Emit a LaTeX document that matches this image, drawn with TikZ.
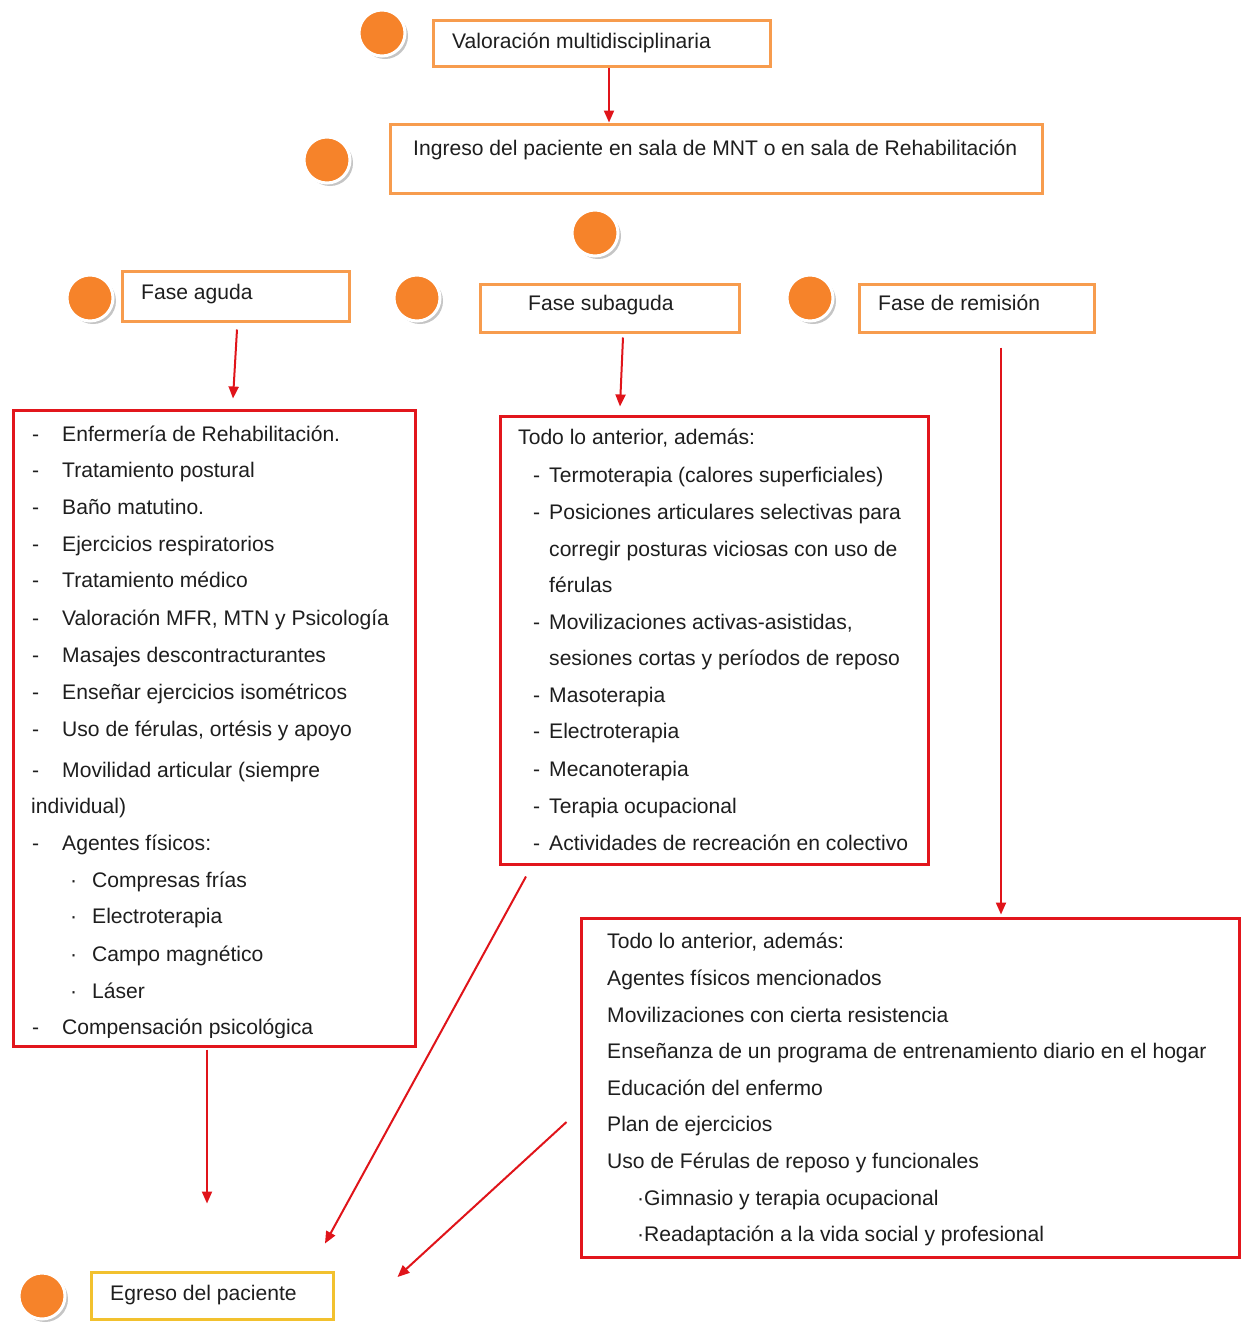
\documentclass[tikz,border=0pt]{standalone}
\usepackage{fontspec}
\setmainfont{Liberation Sans}
\usetikzlibrary{arrows.meta,shadows,calc}
\definecolor{obord}{HTML}{F79C4E}
\definecolor{ybord}{HTML}{F2C12E}
\definecolor{corange}{HTML}{F6832A}
\definecolor{rbord}{HTML}{E2161C}
\definecolor{arrred}{HTML}{E0141A}
\definecolor{txtc}{HTML}{1E1E1E}
\begin{document}
\begin{tikzpicture}[x=1pt,y=-1pt,
  txt/.style={anchor=base west, inner sep=0pt, font=\fontsize{21.1}{24}\selectfont, text=txtc},
  obox/.style={draw=obord, line width=3pt, inner sep=0pt, fill=white},
  ybox/.style={draw=ybord, line width=3pt, inner sep=0pt, fill=white},
  rbox/.style={draw=rbord, line width=3pt, inner sep=0pt},
  arr/.style={draw=arrred, line width=2pt, -{Triangle[length=12pt,width=10pt]}},
  dotc/.style={circle, fill=corange, draw=white, line width=3pt, minimum size=46pt, inner sep=0pt,
    drop shadow={shadow xshift=3pt, shadow yshift=-3pt, fill=black!45, opacity=.5}},
]
\useasboundingbox[fill=white] (0,0) rectangle (1241,1323);

% circles
\node[dotc] (c1) at (382,33) {};
\node[dotc] (c2) at (327,160) {};
\node[dotc] (c3) at (595,233) {};
\node[dotc] (c4) at (90,298) {};
\node[dotc] (c5) at (417,298) {};
\node[dotc] (c6) at (810,298) {};
\node[dotc] (c7) at (42,1296) {};

% boxes
\node[obox, minimum width=337pt, minimum height=46pt] (v) at (601.5,43) {};
\node[obox, minimum width=652pt, minimum height=69pt] (i) at (716,158.5) {};
\node[obox, minimum width=227pt, minimum height=50pt] (fa) at (235.5,296) {};
\node[obox, minimum width=259pt, minimum height=48pt] (fs) at (609.5,308) {};
\node[obox, minimum width=235pt, minimum height=48pt] (fr) at (976.5,308) {};
\node[rbox, minimum width=402pt, minimum height=636pt] (b1) at (214,728) {};
\node[rbox, minimum width=428pt, minimum height=448pt] (b2) at (714,640) {};
\node[rbox, minimum width=658pt, minimum height=339pt] (b3) at (910,1087.5) {};
\node[ybox, minimum width=242pt, minimum height=47pt] (eg) at (212,1295.5) {};

% box texts
\node[txt] (tv) at (452,48) {Valoración multidisciplinaria};
\node[txt] (ti) at (413,155) {Ingreso del paciente en sala de MNT o en sala de Rehabilitación};
\node[txt] (tfa) at (141,299) {Fase aguda};
\node[txt] (tfs) at (528,310) {Fase subaguda};
\node[txt] (tfr) at (878,310) {Fase de remisión};
\node[txt] (teg) at (110,1300) {Egreso del paciente};

% box 1
\begin{scope}
\clip (13,410) rectangle (415,1037);
\foreach \yy/\t [count=\k] in {
  434/{Enfermería de Rehabilitación.},
  470/{Tratamiento postural},
  507/{Baño matutino.},
  544/{Ejercicios respiratorios},
  580/{Tratamiento médico},
  618/{Valoración MFR, MTN y Psicología},
  655/{Masajes descontracturantes},
  692/{Enseñar ejercicios isométricos},
  729/{Uso de férulas, ortésis y apoyo},
  770/{Movilidad articular (siempre},
  843/{Agentes físicos:},
  1027/{Compensación psicológica}}
{
  \node[txt] (ad\k) at (32,\yy+7) {-};
  \node[txt] (a\k) at (62,\yy+7) {\t};
}
\end{scope}
\node[txt] (a13) at (31,813) {individual)};
\foreach \yy/\t [count=\k] in {
  880/{Compresas frías},
  916/{Electroterapia},
  954/{Campo magnético},
  991/{Láser}}
{
  \node[txt] (ab\k) at (70,\yy+7) {·};
  \node[txt] (as\k) at (92,\yy+7) {\t};
}

% box 2
\node[txt] (b2h) at (518,444) {Todo lo anterior, además:};
\foreach \yy/\t [count=\k] in {
  475/{Termoterapia (calores superficiales)},
  512/{Posiciones articulares selectivas para},
  622/{Movilizaciones activas-asistidas,},
  695/{Masoterapia},
  731/{Electroterapia},
  769/{Mecanoterapia},
  806/{Terapia ocupacional},
  843/{Actividades de recreación en colectivo}}
{
  \node[txt] (bd\k) at (533,\yy+7) {-};
  \node[txt] (bt\k) at (549,\yy+7) {\t};
}
\node[txt] (bc1) at (549,556) {corregir posturas viciosas con uso de};
\node[txt] (bc2) at (549,592) {férulas};
\node[txt] (bc3) at (549,665) {sesiones cortas y períodos de reposo};

% box 3
\foreach \yy/\t [count=\k] in {
  941/{Todo lo anterior, además:},
  978/{Agentes físicos mencionados},
  1015/{Movilizaciones con cierta resistencia},
  1051/{Enseñanza de un programa de entrenamiento diario en el hogar},
  1088/{Educación del enfermo},
  1124/{Plan de ejercicios},
  1161/{Uso de Férulas de reposo y funcionales}}
{
  \node[txt] (ct\k) at (607,\yy+7) {\t};
}
\node[txt] (cs1) at (637,1205) {·Gimnasio y terapia ocupacional};
\node[txt] (cs2) at (637,1241) {·Readaptación a la vida social y profesional};

% arrows
\draw[arr] ($(v.south)+(7.5,0)$) -- ($(i.north)+(-107,0)$);
\draw[arr] ($(fa.south)+(1.5,7)$) -- ($(b1.north)+(19,-10)$);
\draw[arr] ($(fs.south)+(13.5,4)$) -- ($(b2.north)+(-94,-8)$);
\draw[arr] ($(fr.south)+(24.5,14)$) -- ($(b3.north)+(91,-2)$);
\draw[arr] ($(b1.south)+(-7,2)$) -- ($(eg.north)+(-5,-67)$);
\draw[arr] ($(b2.south)+(-188,11)$) -- ($(eg.north)+(113,-27)$);
\draw[arr] ($(b3.west)+(-13,34.5)$) -- ($(eg.east)+(63,-18.5)$);
\end{tikzpicture}
\end{document}
